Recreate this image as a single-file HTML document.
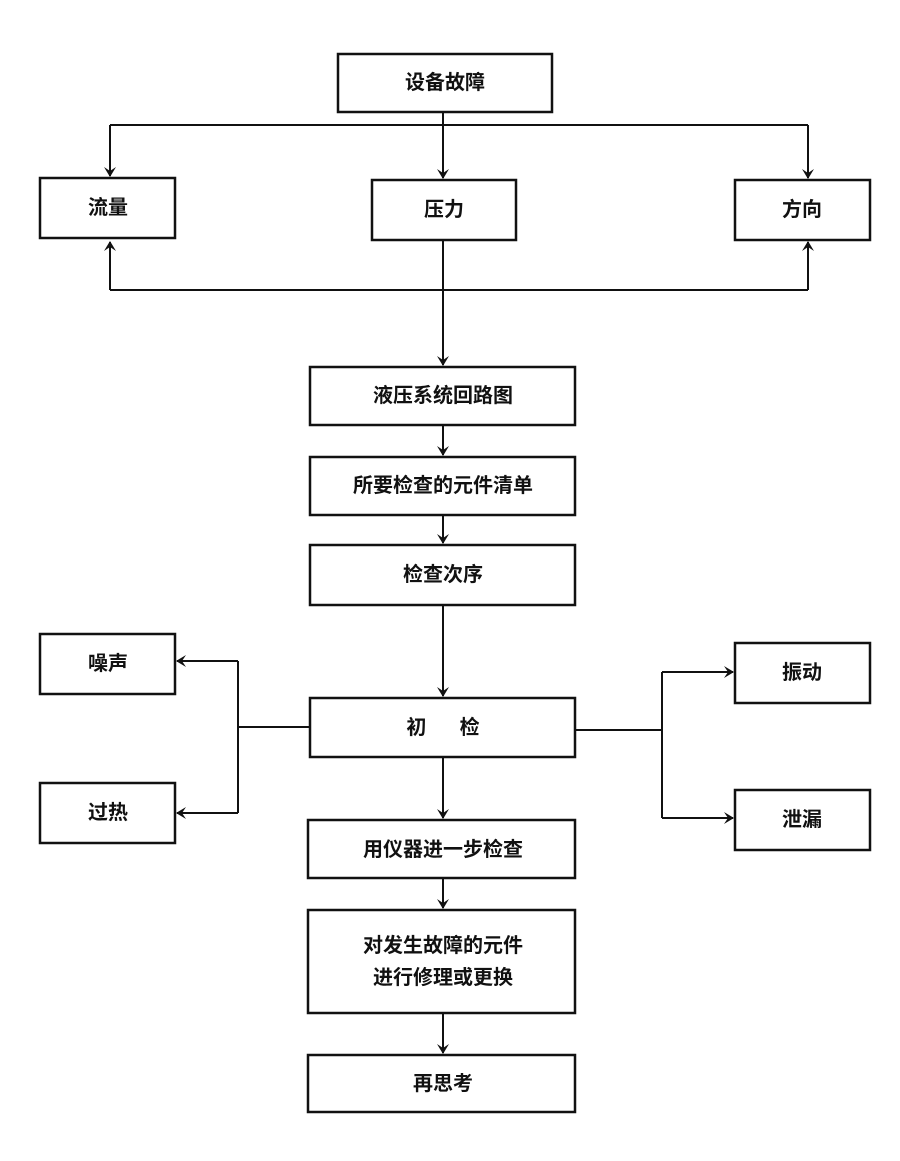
<!DOCTYPE html>
<html><head><meta charset="utf-8"><style>
body{margin:0;background:#fff;}
svg text{font-family:"Liberation Sans","Noto Sans CJK SC",sans-serif;font-size:20px;font-weight:bold;fill:#111;text-anchor:middle;dominant-baseline:central;}
</style></head><body>
<svg width="900" height="1156" viewBox="0 0 900 1156" xmlns="http://www.w3.org/2000/svg">
<defs><marker id="a" markerWidth="10" markerHeight="12" refX="9" refY="6" orient="auto" markerUnits="userSpaceOnUse"><path d="M0,0 L10,6 L0,12 L4,6 Z" fill="#111"/></marker></defs>
<g fill="none" stroke="#111" stroke-width="2.5">
<rect x="338" y="54" width="214" height="58"/>
<rect x="40" y="178" width="135" height="60"/>
<rect x="372" y="180" width="144" height="60"/>
<rect x="735" y="180" width="135" height="60"/>
<rect x="310" y="367" width="265" height="58"/>
<rect x="310" y="457" width="265" height="58"/>
<rect x="310" y="545" width="265" height="60"/>
<rect x="310" y="698" width="265" height="59"/>
<rect x="40" y="634" width="135" height="60"/>
<rect x="40" y="783" width="135" height="60"/>
<rect x="735" y="643" width="135" height="60"/>
<rect x="735" y="790" width="135" height="60"/>
<rect x="308" y="820" width="267" height="58"/>
<rect x="308" y="910" width="267" height="103"/>
<rect x="308" y="1055" width="267" height="57"/>
</g>
<g fill="none" stroke="#111" stroke-width="2">
<path d="M443 112 V125"/>
<path d="M110 125 H808"/>
<path d="M110 125 V176" marker-end="url(#a)"/>
<path d="M443 125 V178" marker-end="url(#a)"/>
<path d="M808 125 V178" marker-end="url(#a)"/>
<path d="M110 290 H808"/>
<path d="M110 290 V242" marker-end="url(#a)"/>
<path d="M808 290 V242" marker-end="url(#a)"/>
<path d="M443 240 V365" marker-end="url(#a)"/>
<path d="M443 425 V455" marker-end="url(#a)"/>
<path d="M443 515 V543" marker-end="url(#a)"/>
<path d="M443 605 V696" marker-end="url(#a)"/>
<path d="M310 727 H238"/>
<path d="M238 661 V813"/>
<path d="M238 661 H177" marker-end="url(#a)"/>
<path d="M238 813 H177" marker-end="url(#a)"/>
<path d="M575 730 H662"/>
<path d="M662 672 V818"/>
<path d="M662 672 H733" marker-end="url(#a)"/>
<path d="M662 818 H733" marker-end="url(#a)"/>
<path d="M443 757 V818" marker-end="url(#a)"/>
<path d="M443 878 V908" marker-end="url(#a)"/>
<path d="M443 1013 V1053" marker-end="url(#a)"/>
</g>
<text x="445" y="83">设备故障</text>
<text x="108" y="208">流量</text>
<text x="444" y="210">压力</text>
<text x="802" y="210">方向</text>
<text x="443" y="396">液压系统回路图</text>
<text x="443" y="486">所要检查的元件清单</text>
<text x="443" y="575">检查次序</text>
<text x="443" y="728" xml:space="preserve">初      检</text>
<text x="108" y="664">噪声</text>
<text x="108" y="813">过热</text>
<text x="802" y="673">振动</text>
<text x="802" y="820">泄漏</text>
<text x="443" y="850">用仪器进一步检查</text>
<text x="443" y="946">对发生故障的元件</text>
<text x="443" y="978">进行修理或更换</text>
<text x="443" y="1084">再思考</text>
</svg>
</body></html>
